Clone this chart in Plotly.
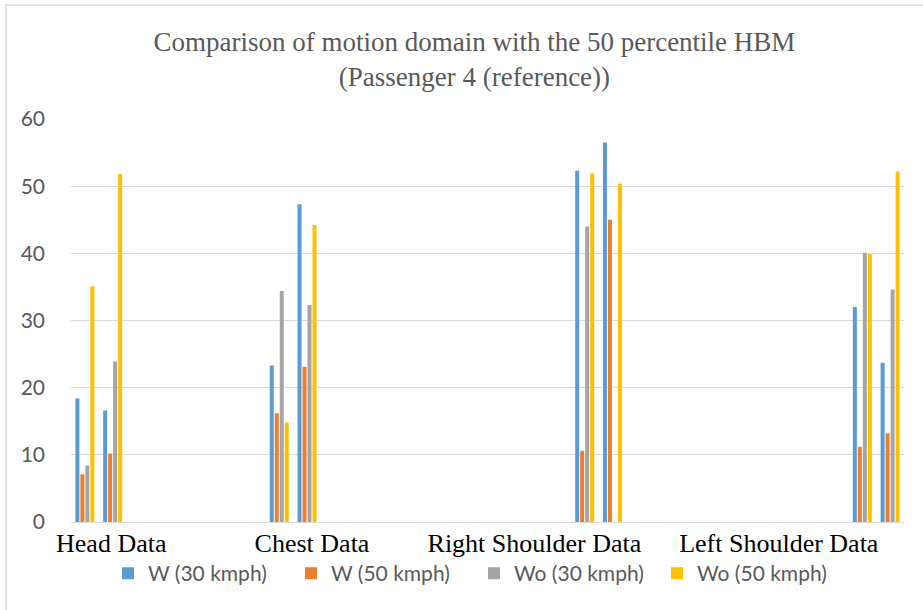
import plotly.graph_objects as go

# ---- data ----
group_names = ["Head Data", "Chest Data", "Right Shoulder Data", "Left Shoulder Data"]
# each group holds two sub-columns (first / second)
series_names = ["W (30 kmph)", "W (50 kmph)", "Wo (30 kmph)", "Wo (50 kmph)"]
w_30 = [18.4, 16.6, 23.3, 47.3, 52.3, 56.5, 32.0, 23.7]
w_50 = [7.1, 10.2, 16.2, 23.1, 10.6, 45.0, 11.2, 13.2]
wo_30 = [8.4, 23.9, 34.4, 32.3, 44.0, 0.0, 40.1, 34.6]
wo_50 = [35.1, 51.8, 14.8, 44.2, 51.9, 50.4, 39.9, 52.2]
y_ticks = [0, 10, 20, 30, 40, 50, 60]

# ---- layout of the (mostly empty) category slots, as in the source sheet ----
n_slots = 30
data_slots = [0, 1, 7, 8, 18, 19, 28, 29]
label_slots = [0.95, 8.18, 16.19, 24.99]

colors = ["#5B9BD5", "#ED7D31", "#A5A5A5", "#FFC000"]

fig = go.Figure()
for name, vals, col in zip(series_names, [w_30, w_50, wo_30, wo_50], colors):
    fig.add_trace(go.Bar(x=data_slots, y=vals, name=name, marker_color=col,
                         marker_line_width=0))

fig.update_layout(
    width=923, height=610,
    margin=dict(l=71, r=19, t=119, b=88, autoexpand=False),
    paper_bgcolor="white", plot_bgcolor="white",
    barmode="group", bargap=0.28, bargroupgap=0.2,
    title=dict(
        text="Comparison of motion domain with the 50 percentile HBM<br>(Passenger 4 (reference))",
        x=0.514, xref="container", xanchor="center",
        y=0.916, yref="container", yanchor="top",
        font=dict(family="Liberation Serif, Times New Roman, serif", size=27, color="#595959"),
    ),
    xaxis=dict(
        range=[-0.5, n_slots - 0.5],
        tickmode="array", tickvals=label_slots, ticktext=group_names,
        tickfont=dict(family="Liberation Serif, Times New Roman, serif", size=26, color="black"),
        showgrid=False, zeroline=False,
        showline=True, linecolor="#D9D9D9", linewidth=1,
        ticks="", ticklabelstandoff=-2, automargin=False,
    ),
    yaxis=dict(
        range=[0, 60], tickmode="array", tickvals=y_ticks,
        tickfont=dict(family="Lato, Carlito, Calibri, sans-serif", size=21, color="#595959"),
        showgrid=True, gridcolor="#D9D9D9", gridwidth=1,
        zeroline=False, showline=False, ticks="", ticklabelstandoff=25,
        automargin=False,
    ),
    legend=dict(
        orientation="h", xref="container", x=108 / 923, xanchor="left",
        y=-0.128, yanchor="middle",
        font=dict(family="Lato, Carlito, Calibri, sans-serif", size=21, color="#595959"),
        entrywidth=138, entrywidthmode="pixels", bgcolor="rgba(0,0,0,0)",
        traceorder="normal",
    ),
    showlegend=True,
)

# outer chart border (light grey frame of the source chart area)
fig.add_shape(type="rect", xref="paper", yref="paper",
              x0=(6 - 71) / 833, x1=(935 - 71) / 833,
              y0=-(640 - 522) / 403, y1=(522 - 5) / 403,
              line=dict(color="#D9D9D9", width=1.5), fillcolor="rgba(0,0,0,0)",
              layer="below")

fig.write_html("out.html", config={"displayModeBar": False},
               post_script="document.body.style.margin='0';document.body.style.overflow='hidden';")
